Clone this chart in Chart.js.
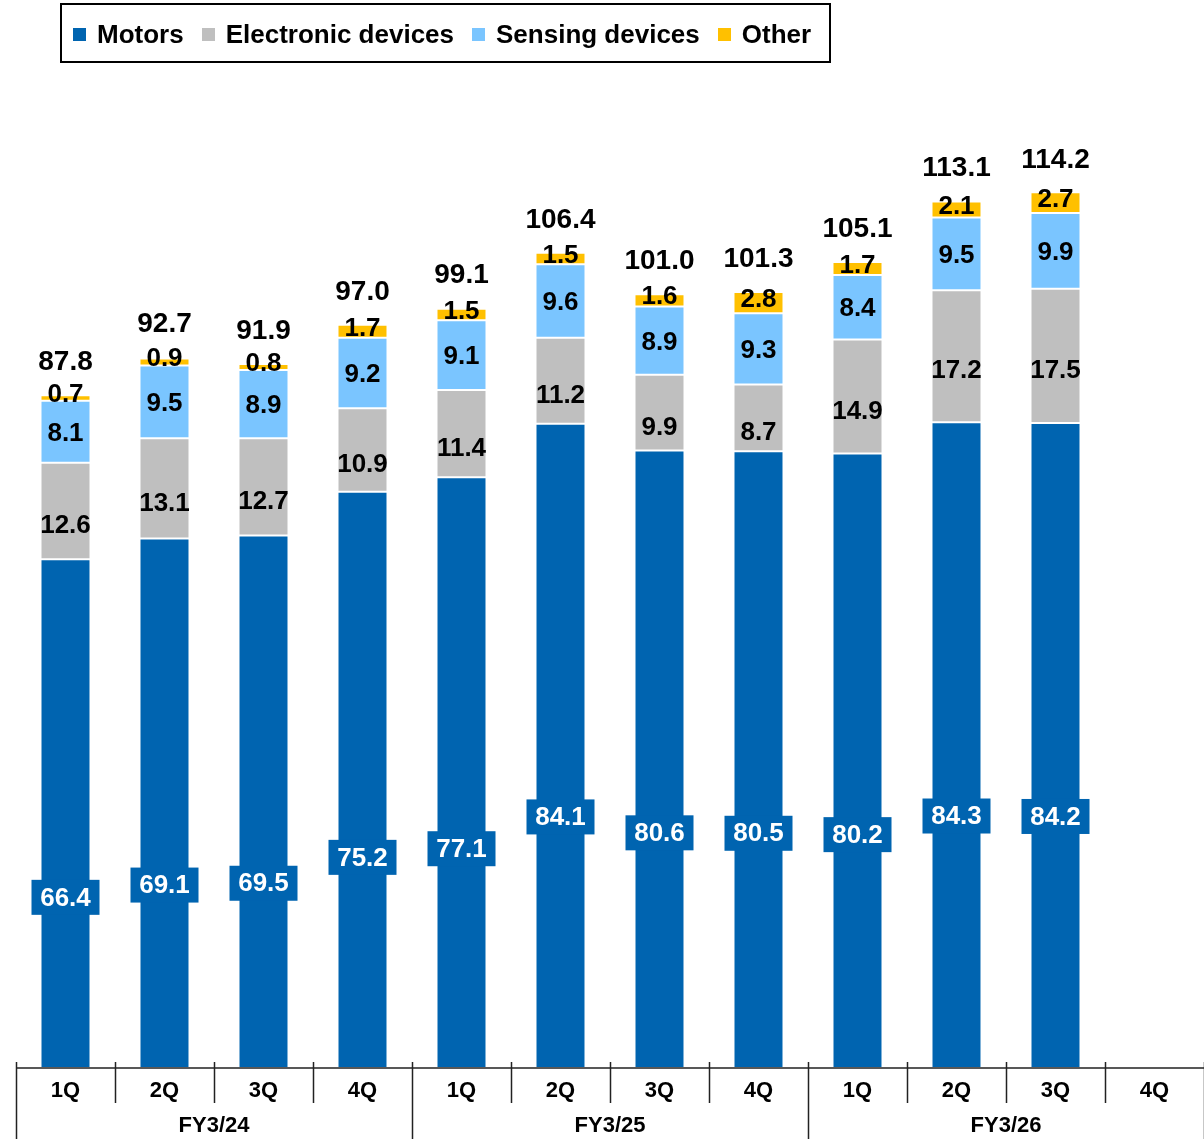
<!DOCTYPE html>
<html>
<head>
<meta charset="utf-8">
<script src="https://cdn.jsdelivr.net/npm/chart.js@4/dist/chart.umd.min.js"></script>
<style>
  body { margin: 0; background: #fff; }
  #wrap { position: relative; width: 1204px; height: 1139px; }
  #legend {
    position: absolute; left: 60px; top: 3px; width: 771px; height: 60px;
    border: 2px solid #000; display: flex; align-items: center;
    font: bold 26px "Liberation Sans", Arial, sans-serif; color: #000;
    padding: 3px 0 0 11px; box-sizing: border-box;
  }
  #legend span.item { display: flex; align-items: center; margin-right: 18px; white-space: nowrap; }
  #legend span.sw { width: 13px; height: 13px; margin-right: 11px; display: inline-block; }
</style>
</head>
<body>
<div id="wrap">
  <canvas id="chart" width="1204" height="1139"></canvas>
  <div id="legend"></div>
</div>
<script>
// data
const quarters = ['1Q','2Q','3Q','4Q','1Q','2Q','3Q','4Q','1Q','2Q','3Q','4Q']
const fiscalYears = ['FY3/24','FY3/25','FY3/26']
const motors     = [66.4, 69.1, 69.5, 75.2, 77.1, 84.1, 80.6, 80.5, 80.2, 84.3, 84.2, null]
const electronic = [12.6, 13.1, 12.7, 10.9, 11.4, 11.2, 9.9, 8.7, 14.9, 17.2, 17.5, null]
const sensing    = [8.1, 9.5, 8.9, 9.2, 9.1, 9.6, 8.9, 9.3, 8.4, 9.5, 9.9, null]
const other      = [0.7, 0.9, 0.8, 1.7, 1.5, 1.5, 1.6, 2.8, 1.7, 2.1, 2.7, null]
const totals     = [87.8, 92.7, 91.9, 97.0, 99.1, 106.4, 101.0, 101.3, 105.1, 113.1, 114.2, null]

const colors = {
  motors: '#0064B0',
  electronic: '#BFBFBF',
  sensing: '#7AC5FF',
  other: '#FFC000'
}
const FONT = '"Liberation Sans", Arial, sans-serif'

// legend (html)
const legendItems = [
  ['Motors', colors.motors],
  ['Electronic devices', colors.electronic],
  ['Sensing devices', colors.sensing],
  ['Other', colors.other]
]
const legendEl = document.getElementById('legend')
for (const [name, col] of legendItems) {
  const it = document.createElement('span')
  it.className = 'item'
  it.innerHTML = '<span class="sw" style="background:' + col + '"></span>' + name
  legendEl.appendChild(it)
}

const fmt = v => v.toFixed(1)

// labels + two level axis
const labelPlugin = {
  id: 'labels',
  afterDatasetsDraw(chart) {
    const ctx = chart.ctx
    const x = chart.scales.x
    const y = chart.scales.y
    const area = chart.chartArea
    ctx.save()
    ctx.textAlign = 'center'
    ctx.textBaseline = 'middle'

    for (let i = 0; i < quarters.length; i++) {
      if (motors[i] == null) continue
      const cx = x.getPixelForValue(i)
      const base1 = motors[i]
      const base2 = base1 + electronic[i]
      const base3 = base2 + sensing[i]
      const base4 = base3 + other[i]

      // motors box label
      const my = y.getPixelForValue(0.593 * motors[i] - 17.1)
      ctx.fillStyle = colors.motors
      ctx.fillRect(cx - 34, my - 17.5, 68, 35)
      ctx.fillStyle = '#fff'
      ctx.font = 'bold 26px ' + FONT
      ctx.fillText(fmt(motors[i]), cx, my + 1)

      ctx.fillStyle = '#000'
      // electronic: a bit below centre
      const eb = y.getPixelForValue(base1), et = y.getPixelForValue(base2)
      ctx.fillText(fmt(electronic[i]), cx, (eb + et) / 2 + 15)
      // sensing: centre
      const sb = y.getPixelForValue(base2), st = y.getPixelForValue(base3)
      ctx.fillText(fmt(sensing[i]), cx, (sb + st) / 2 + 2)
      // other
      const ob = y.getPixelForValue(base3), ot = y.getPixelForValue(base4)
      ctx.fillText(fmt(other[i]), cx, (ob + ot) / 2 - 3)
      // total
      ctx.font = 'bold 28px ' + FONT
      ctx.fillText(fmt(totals[i]), cx, y.getPixelForValue(totals[i]) - 33)
    }

    // axis
    const step = x.getPixelForValue(1) - x.getPixelForValue(0)
    const left = x.getPixelForValue(0) - step / 2
    const bottom = area.bottom
    ctx.strokeStyle = '#222'
    ctx.lineWidth = 1.5
    ctx.beginPath()
    ctx.moveTo(left, bottom)
    ctx.lineTo(chart.width, bottom)
    for (let k = 0; k <= quarters.length; k++) {
      const bx = Math.round(left + k * step) + 0.5
      ctx.moveTo(bx, bottom - 6)
      ctx.lineTo(bx, k % 4 === 0 ? chart.height : bottom + 35)
    }
    ctx.stroke()

    ctx.fillStyle = '#000'
    ctx.font = 'bold 22px ' + FONT
    for (let i = 0; i < quarters.length; i++) {
      ctx.fillText(quarters[i], x.getPixelForValue(i), bottom + 23)
    }
    for (let g = 0; g < fiscalYears.length; g++) {
      const gx = (x.getPixelForValue(g * 4) + x.getPixelForValue(g * 4 + 3)) / 2
      ctx.fillText(fiscalYears[g], gx, bottom + 58)
    }
    ctx.restore()
  }
}

const ds = (label, data, color) => ({
  label: label,
  data: data,
  backgroundColor: color,
  borderColor: 'rgba(255,255,255,0.7)',
  borderWidth: 1,
  borderSkipped: false,
  categoryPercentage: 1,
  barPercentage: 0.505
})

new Chart(document.getElementById('chart'), {
  type: 'bar',
  data: {
    labels: quarters,
    datasets: [
      ds('Motors', motors, colors.motors),
      ds('Electronic devices', electronic, colors.electronic),
      ds('Sensing devices', sensing, colors.sensing),
      ds('Other', other, colors.other)
    ]
  },
  options: {
    responsive: false,
    animation: false,
    layout: { padding: { left: 16, right: 0, top: 72, bottom: 71 } },
    plugins: {
      legend: { display: false },
      tooltip: { enabled: false }
    },
    scales: {
      x: { stacked: true, display: false },
      y: { stacked: true, display: false, min: 0, max: 130 }
    }
  },
  plugins: [labelPlugin]
})
</script>
</body>
</html>
